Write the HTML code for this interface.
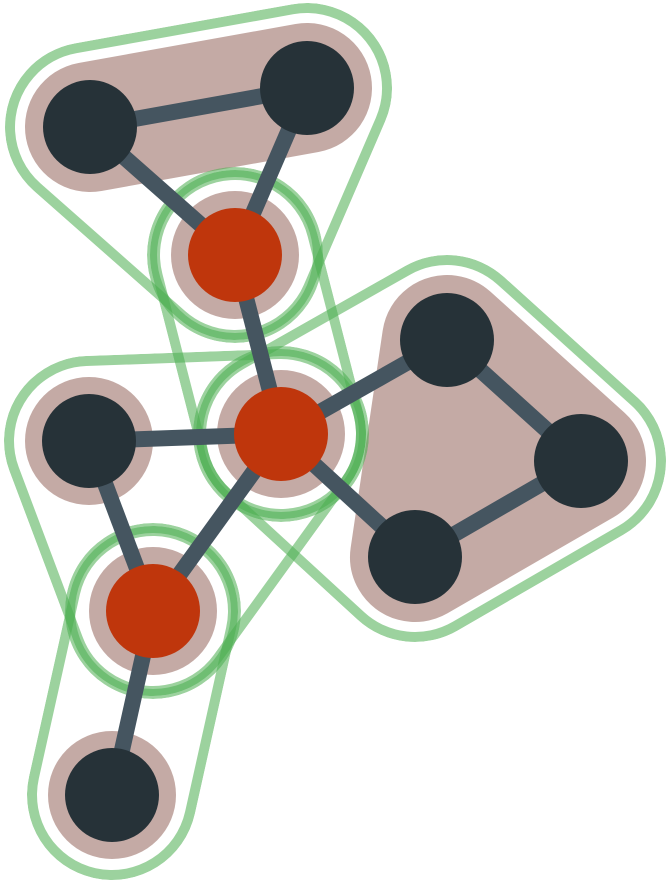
<!DOCTYPE html>
<html><head><meta charset="utf-8"><style>
html,body{margin:0;padding:0;background:#fff;width:672px;height:884px;overflow:hidden}
svg{display:block}
</style></head><body>
<svg id="chart" width="672" height="884" viewBox="0 0 672 884" xmlns="http://www.w3.org/2000/svg">
<defs id="defs"></defs>
<g id="fills"></g>
<g id="rings"></g>
<g id="links"></g>
<g id="nodes"></g>
</svg>
<script>
const nodeIds = ["A","B","C","D","E","F","G","H","I","J"];
const nodeX = [90,307,235,281,89,447,581,415,153,112];
const nodeY = [127,88,255,434,441,340,461,557,611,795];
const nodeRed = [0,0,1,1,0,0,0,0,1,0];
const links = [["A","B"],["A","C"],["B","C"],["C","D"],["D","E"],["D","F"],["D","H"],["D","I"],["E","I"],["F","G"],["G","H"],["I","J"]];
const filledSets = [["A","B"],["F","G","H"],["A"],["B"],["C"],["D"],["E"],["F"],["G"],["H"],["I"],["J"]];
const outlinedSets = [["A","B","C"],["C"],["C","D"],["D"],["E","D","I"],["I"],["I","J"],["D","F","G","H"]];

const NS="http://www.w3.org/2000/svg";
const idx=id=>nodeIds.indexOf(id);
function pts(set){return set.map(id=>nodeX[idx(id)]+","+nodeY[idx(id)]).join(" ");}
function hull(set,w,color,extra){
  let el;
  if(set.length===1){el=document.createElementNS(NS,"circle");el.setAttribute("cx",nodeX[idx(set[0])]);el.setAttribute("cy",nodeY[idx(set[0])]);el.setAttribute("r",w/2);el.setAttribute("fill",color);}
  else{el=document.createElementNS(NS,"polygon");el.setAttribute("points",pts(set));el.setAttribute("fill",color);el.setAttribute("stroke",color);el.setAttribute("stroke-width",w);el.setAttribute("stroke-linejoin","round");el.setAttribute("stroke-linecap","round");}
  return el;
}
const fills=document.getElementById("fills");
filledSets.forEach((s,i)=>{
  const el=hull(s,s.length===1?128:130,"#c4aaa5");
  
  
  fills.appendChild(el);
});
const defs=document.getElementById("defs"), rings=document.getElementById("rings");
outlinedSets.forEach((s,i)=>{
  const R=s.length===1?83:80;
  const m=document.createElementNS(NS,"mask");m.setAttribute("id","m"+i);
  m.setAttribute("maskUnits","userSpaceOnUse");m.setAttribute("x",0);m.setAttribute("y",0);m.setAttribute("width",672);m.setAttribute("height",884);
  m.appendChild(hull(s,2*R+10,"#fff"));
  m.appendChild(hull(s,2*R-10,"#000"));
  defs.appendChild(m);
  const el=hull(s,2*R+10,"#4caf50");
  el.setAttribute("mask","url(#m"+i+")");
  el.setAttribute("opacity","0.55");
  
  
  rings.appendChild(el);
});
const lg=document.getElementById("links");
links.forEach(([a,b])=>{
  const l=document.createElementNS(NS,"line");
  l.setAttribute("x1",nodeX[idx(a)]);l.setAttribute("y1",nodeY[idx(a)]);
  l.setAttribute("x2",nodeX[idx(b)]);l.setAttribute("y2",nodeY[idx(b)]);
  l.setAttribute("stroke","#455560");l.setAttribute("stroke-width",16);
  
  
  lg.appendChild(l);
});
const ng=document.getElementById("nodes");
nodeIds.forEach((id,i)=>{
  const c=document.createElementNS(NS,"circle");
  c.setAttribute("cx",nodeX[i]);c.setAttribute("cy",nodeY[i]);c.setAttribute("r",47);
  c.setAttribute("fill",nodeRed[i]?"#bf360c":"#263238");
  
  
  ng.appendChild(c);
});
</script>
</body></html>
